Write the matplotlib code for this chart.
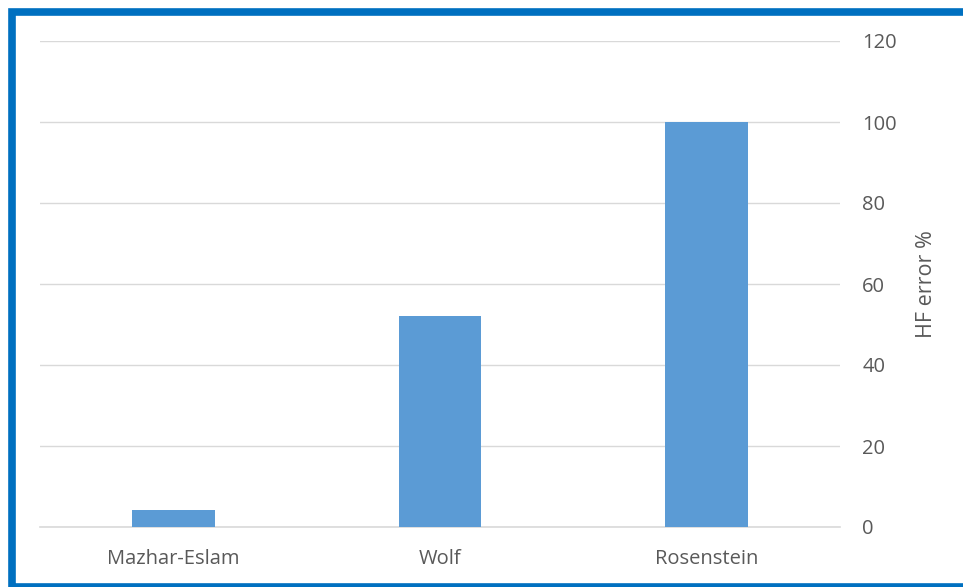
import matplotlib.pyplot as plt
from matplotlib.patches import Rectangle

plt.rcParams['font.family'] = ['Open Sans', 'DejaVu Sans']

# Chart data
methods = ["Mazhar-Eslam", "Wolf", "Rosenstein"]
hf_error = [4.2, 52.1, 100]
y_ticks = [0, 20, 40, 60, 80, 100, 120]

W, H = 963, 587
fig = plt.figure(figsize=(W / 100, H / 100), dpi=100)
fig.patch.set_facecolor('white')

ax = fig.add_axes([40 / W, (H - 527) / H, 800 / W, 486 / H])
ax.bar(range(len(methods)), hf_error, width=0.31, color='#5B9BD5', zorder=3)
ax.set_xlim(-0.5, len(methods) - 0.5)
ax.set_ylim(0, 120)
ax.set_yticks(y_ticks)
ax.set_xticks(range(len(methods)))
ax.set_xticklabels(methods)

ax.yaxis.tick_right()
ax.yaxis.set_label_position('right')
ax.grid(axis='y', color='#d9d9d9', linewidth=1, zorder=0)
ax.axhline(0, color='#d9d9d9', linewidth=1.2, zorder=2, clip_on=False)
for s in ax.spines.values():
    s.set_visible(False)
ax.tick_params(axis='both', length=0, labelsize=14.5, colors='#595959')
ax.tick_params(axis='y', pad=16)
ax.tick_params(axis='x', pad=15.5)
ax.set_ylabel("HF error %", fontsize=15.5, color='#595959', labelpad=14)

# Blue frame around the chart (cut off at right and bottom)
frame = Rectangle((12 / W, 0.5 / H), 1.0, (H - 12) / H, transform=fig.transFigure,
                  fill=False, edgecolor='#0070C0', linewidth=5.5)
fig.add_artist(frame)

fig.savefig("out.png", dpi=100)
